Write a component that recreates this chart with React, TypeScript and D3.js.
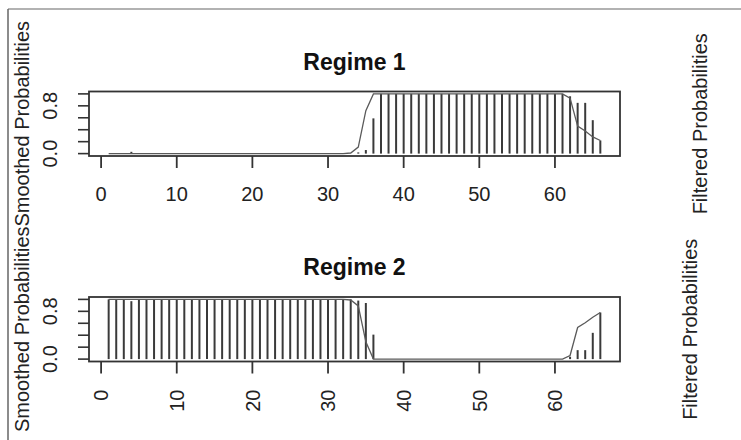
import React from "react";
import * as d3 from "d3";

const TIME: number[] = d3.range(1, 67);

const FILT1: number[] = [
  0, 0, 0, 0.03, 0, 0, 0, 0, 0, 0,
  0, 0, 0, 0, 0, 0, 0, 0, 0, 0,
  0, 0, 0, 0, 0, 0, 0, 0, 0, 0,
  0, 0, 0, 0.02, 0.06, 0.59, 1, 1, 1, 1,
  1, 1, 1, 1, 1, 1, 1, 1, 1, 1,
  1, 1, 1, 1, 1, 1, 1, 1, 1, 1,
  1, 0.96, 0.85, 0.85, 0.56, 0.22,
];
const SMOOTH1: number[] = [
  0, 0, 0, 0, 0, 0, 0, 0, 0, 0,
  0, 0, 0, 0, 0, 0, 0, 0, 0, 0,
  0, 0, 0, 0, 0, 0, 0, 0, 0, 0,
  0, 0, 0.01, 0.11, 0.72, 1, 1, 1, 1, 1,
  1, 1, 1, 1, 1, 1, 1, 1, 1, 1,
  1, 1, 1, 1, 1, 1, 1, 1, 1, 1,
  1, 0.93, 0.46, 0.38, 0.28, 0.22,
];
const FILT2: number[] = [
  1, 1, 1, 0.97, 1, 1, 1, 1, 1, 1,
  1, 1, 1, 1, 1, 1, 1, 1, 1, 1,
  1, 1, 1, 1, 1, 1, 1, 1, 1, 1,
  1, 1, 1, 0.98, 0.94, 0.41, 0, 0, 0, 0,
  0, 0, 0, 0, 0, 0, 0, 0, 0, 0,
  0, 0, 0, 0, 0, 0, 0, 0, 0, 0,
  0, 0.04, 0.15, 0.15, 0.44, 0.78,
];
const SMOOTH2: number[] = [
  1, 1, 1, 1, 1, 1, 1, 1, 1, 1,
  1, 1, 1, 1, 1, 1, 1, 1, 1, 1,
  1, 1, 1, 1, 1, 1, 1, 1, 1, 1,
  1, 1, 0.99, 0.89, 0.29, 0, 0, 0, 0, 0,
  0, 0, 0, 0, 0, 0, 0, 0, 0, 0,
  0, 0, 0, 0, 0, 0, 0, 0, 0, 0,
  0, 0.06, 0.53, 0.61, 0.70, 0.78,
];

const X_TICKS: number[] = [0, 10, 20, 30, 40, 50, 60];
const Y_TICKS: number[] = [0, 0.2, 0.4, 0.6, 0.8, 1.0];
const Y_LABELLED: number[] = [0, 0.8];
const TITLES: string[] = ["Regime 1", "Regime 2"];
const Y_TITLE = "Smoothed Probabilities";
const R_TITLE = "Filtered Probabilities";

const FONT = "'Liberation Sans', Arial, Helvetica, sans-serif";
const INK = "#333";

type PanelProps = {
  top: number;
  title: string;
  filt: number[];
  smooth: number[];
  rotX: boolean;
  rightX: number;
};

function Panel({ top, title, filt, smooth, rotX, rightX }: PanelProps) {
  const left = 89;
  const right = 620;
  const h = 64.5;
  const x = d3.scaleLinear().domain([-1.6, 68.6]).range([left, right]);
  const y = d3.scaleLinear().domain([-0.04, 1.04]).range([top + h, top]);
  const line = d3
    .line<number>()
    .x((_, i) => x(TIME[i]))
    .y((d) => y(d));
  const cy = top + h / 2;
  return (
    <g>
      <text
        x={(left + right) / 2}
        y={top - 22}
        textAnchor="middle"
        fontFamily={FONT}
        fontWeight="bold"
        fontSize={23}
        fill="#111"
      >
        {title}
      </text>
      {filt.map((v, i) => (
        <line
          key={i}
          x1={x(TIME[i])}
          x2={x(TIME[i])}
          y1={y(0)}
          y2={y(v)}
          stroke="#3a3a3a"
          strokeWidth={2}
        />
      ))}
      <path d={line(smooth) || ""} fill="none" stroke="#5a5a5a" strokeWidth={1.3} />
      <rect x={left} y={top} width={right - left} height={h} fill="none" stroke={INK} strokeWidth={1.8} />
      {X_TICKS.map((t) => (
        <g key={t}>
          <line x1={x(t)} x2={x(t)} y1={top + h} y2={top + h + 12} stroke={INK} strokeWidth={1.8} />
          {rotX ? (
            <text
              transform={`translate(${x(t)},${top + h + 28}) rotate(-90)`}
              textAnchor="end"
              dy="0.36em"
              fontFamily={FONT}
              fontSize={20}
              fill="#222"
            >
              {t}
            </text>
          ) : (
            <text x={x(t)} y={top + h + 45} textAnchor="middle" fontFamily={FONT} fontSize={20} fill="#222">
              {t}
            </text>
          )}
        </g>
      ))}
      {Y_TICKS.map((t) => (
        <line key={t} x1={left} x2={left - 11} y1={y(t)} y2={y(t)} stroke={INK} strokeWidth={1.6} />
      ))}
      {Y_LABELLED.map((t) => (
        <text
          key={t}
          transform={`translate(${left - 32},${y(t)}) rotate(-90)`}
          textAnchor="middle"
          fontFamily={FONT}
          fontSize={20}
          fill="#222"
        >
          {t.toFixed(1)}
        </text>
      ))}
      <text
        transform={`translate(29,${cy}) rotate(-90)`}
        textAnchor="middle"
        fontFamily={FONT}
        fontSize={20}
        fill="#222"
      >
        {Y_TITLE}
      </text>
      <text
        transform={`translate(${rightX},${cy}) rotate(-90)`}
        textAnchor="middle"
        fontFamily={FONT}
        fontSize={20}
        fill="#222"
      >
        {R_TITLE}
      </text>
    </g>
  );
}

export default function App() {
  return (
    <svg
      width={741}
      height={440}
      style={{ position: "absolute", left: 0, top: 0, background: "#fff" }}
    >
      <rect x={0} y={0} width={741} height={440} fill="#fff" />
      <line x1={8} x2={741} y1={9} y2={9} stroke="#999" strokeWidth={1.5} />
      <line x1={8} x2={8} y1={9} y2={440} stroke="#666" strokeWidth={1.5} />
      <Panel top={91.5} title={TITLES[0]} filt={FILT1} smooth={SMOOTH1} rotX={false} rightX={707} />
      <Panel top={297} title={TITLES[1]} filt={FILT2} smooth={SMOOTH2} rotX={true} rightX={697} />
    </svg>
  );
}
